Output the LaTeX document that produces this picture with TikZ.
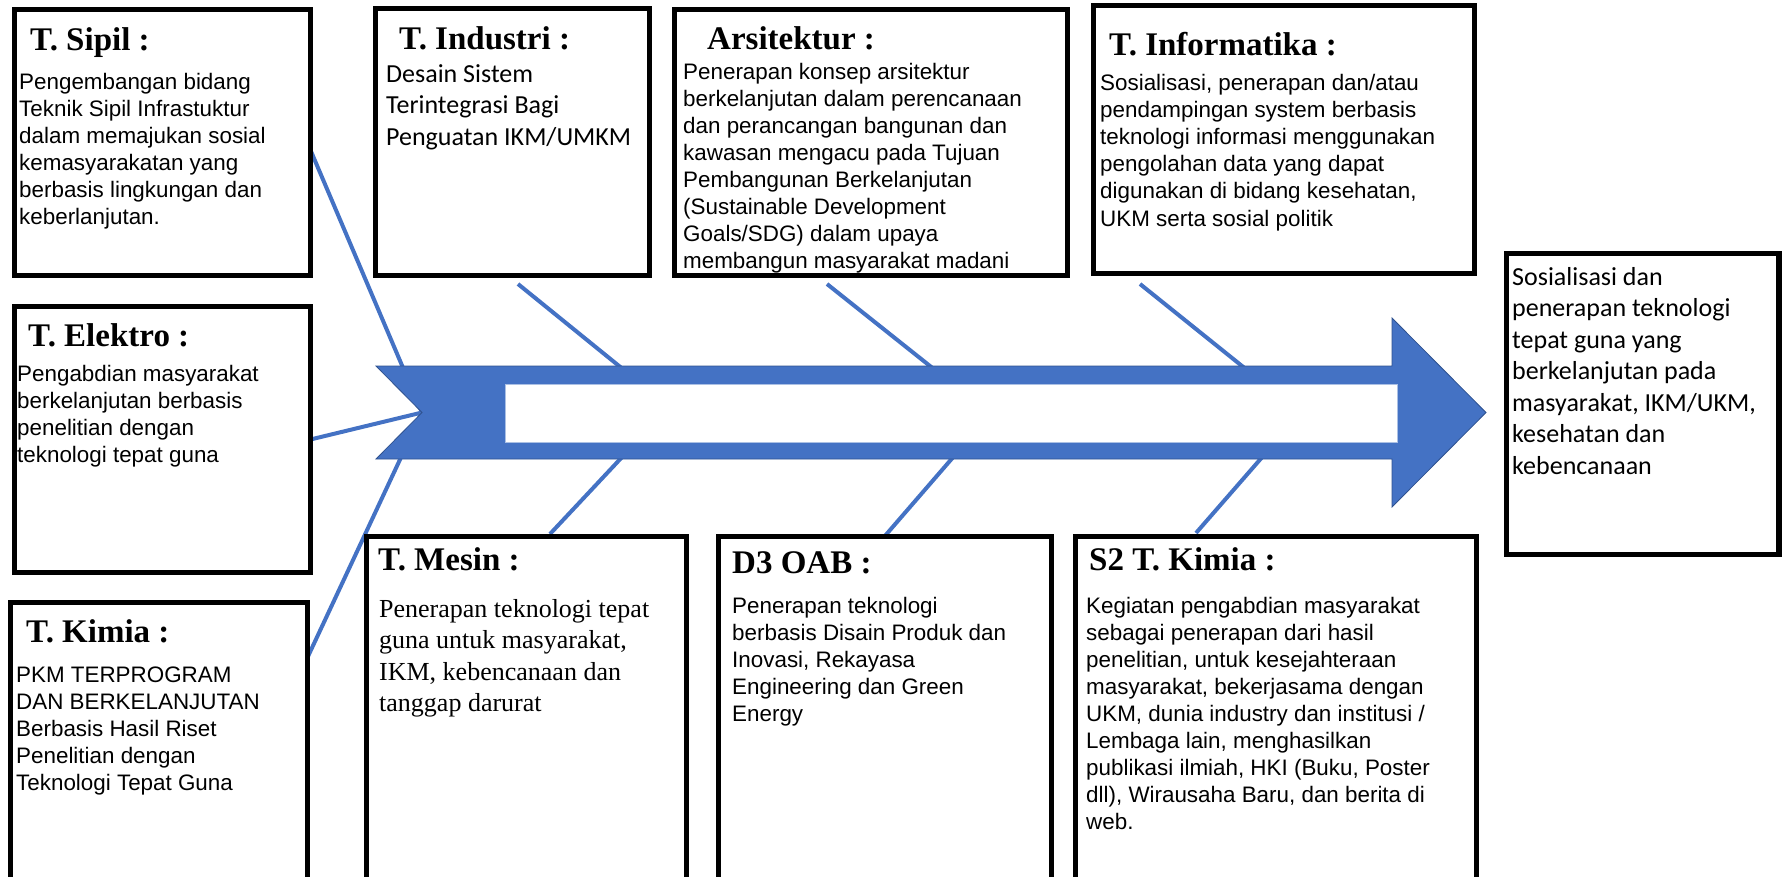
\documentclass[tikz,border=0pt]{standalone}
\usepackage{fontspec}
\newfontfamily\fArial{Liberation Sans}
\newfontfamily\fCalibri{Carlito}
\newfontfamily\fTimes{Liberation Serif}
\usetikzlibrary{fit,calc}
\definecolor{fishblue}{HTML}{4472C4}
\definecolor{fishedge}{HTML}{2F528F}

% left-aligned stack of lines whose reference point is the first baseline
\newcommand\txtlines[2]{\vtop{\baselineskip=#1\relax\lineskiplimit=-100pt\halign{##\hfil\cr#2\crcr}}}

\tikzset{
  box/.style={draw=black, line width=5.5pt, inner sep=0pt, outer sep=0pt},
  ttl/.style={anchor=base west, inner sep=0pt, font=\fTimes\bfseries\fontsize{33}{38}\selectfont},
  arialtxt/.style={anchor=base west, inner sep=0pt, font=\fArial\fontsize{22.4}{27}\selectfont},
  calibtxt/.style={anchor=base west, inner sep=0pt, font=\fCalibri\fontsize{26}{31.5}\selectfont},
  timestxt/.style={anchor=base west, inner sep=0pt, font=\fTimes\fontsize{26}{31.5}\selectfont},
  bone/.style={draw=fishblue, line width=4pt},
}

\begin{document}
\begin{tikzpicture}[x=1pt,y=-1pt]
\useasboundingbox (0,0) rectangle (1782,876);
\clip (0,0) rectangle (1782,876);

% ---------- boxes (outlines drawn last, positions fixed here) ----------
\path[inner sep=0pt]
  node[fit={(14.75,9.75)(310.25,275.25)}] (sipil) {}
  node[fit={(375.75,8.75)(649.25,275.25)}] (industri) {}
  node[fit={(674.75,9.75)(1067.25,275.25)}] (arsi) {}
  node[fit={(1093.75,5.75)(1474.25,273.25)}] (infor) {}
  node[fit={(1506.75,253.75)(1779,554.25)}] (hasil) {}
  node[fit={(14.75,306.75)(310.25,572.25)}] (elektro) {}
  node[fit={(10.75,602.75)(307.25,900)}] (kimia) {}
  node[fit={(366.75,536.75)(686.25,900)}] (mesin) {}
  node[fit={(718.75,536.75)(1051.25,900)}] (oab) {}
  node[fit={(1075.75,536.75)(1476.25,900)}] (skimia) {};

% ---------- fishbone ----------
\coordinate (notch) at (422,412.5);
\coordinate (up1a) at (518,284);  \coordinate (up1b) at (624,370);
\coordinate (up2a) at (827,284);  \coordinate (up2b) at (935,370);
\coordinate (up3a) at (1140,284); \coordinate (up3b) at (1247,370);
\coordinate (lo1a) at (624,455);  \coordinate (lo1b) at (550,534);
\coordinate (lo2a) at (955,455);  \coordinate (lo2b) at (884,537);
\coordinate (lo3a) at (1264,455); \coordinate (lo3b) at (1196,533);

\draw[bone] ([yshift=-7.5pt]sipil.east) -- (notch);
\draw[bone] (elektro.east) -- (notch);
\draw[bone] ([yshift=-55pt]kimia.north east) -- (notch);
\draw[bone] (up1a) -- (up1b);
\draw[bone] (up2a) -- (up2b);
\draw[bone] (up3a) -- (up3b);
\draw[bone] (lo1a) -- (lo1b);
\draw[bone] (lo2a) -- (lo2b);
\draw[bone] (lo3a) -- (lo3b);

% main notched arrow with its white band
\path[fill=fishblue, draw=fishedge, line width=0.8pt]
  (376,366) -- (1392,366) -- (1392,318) -- (1486,412.5) -- (1392,507)
  -- (1392,459) -- (376,459) -- (notch) -- cycle;
\node[fill=white, draw=fishblue!45, line width=0.8pt, inner sep=0pt,
      fit={(505,384)(1397,442)}] (band) {};

% ---------- titles ----------
\node[ttl] (tsipil) at (30,50) {T. Sipil :};
\node[ttl] (tindustri) at (399,49) {T. Industri :};
\node[ttl] (tarsi) at (707,49) {Arsitektur :};
\node[ttl] (tinfor) at (1109,55) {T. Informatika :};
\node[ttl] (telektro) at (28,346) {T. Elektro :};
\node[ttl] (tkimia) at (26,642) {T. Kimia :};
\node[ttl] (tmesin) at (378,570) {T. Mesin :};
\node[ttl] (toab) at (732,573) {D3 OAB :};
\node[ttl] (tskimia) at (1089,570) {S2 T. Kimia :};

% ---------- descriptions ----------
\node[arialtxt] (dsipil) at (19,89) {\txtlines{27pt}{Pengembangan bidang\cr
  Teknik Sipil Infrastuktur\cr dalam memajukan sosial\cr kemasyarakatan yang\cr
  berbasis lingkungan dan\cr keberlanjutan.}};
\node[calibtxt] (dindustri) at (386,82) {\txtlines{31.8pt}{Desain Sistem\cr
  Terintegrasi Bagi\cr Penguatan IKM/UMKM}};
\node[arialtxt] (darsi) at (683,79) {\txtlines{27pt}{Penerapan konsep arsitektur\cr
  berkelanjutan dalam perencanaan\cr dan perancangan bangunan dan\cr
  kawasan mengacu pada Tujuan\cr Pembangunan Berkelanjutan\cr
  (Sustainable Development\cr Goals/SDG) dalam upaya\cr membangun masyarakat madani}};
\node[arialtxt] (dinfor) at (1100,90) {\txtlines{27.2pt}{Sosialisasi, penerapan dan/atau\cr
  pendampingan system berbasis\cr teknologi informasi menggunakan\cr
  pengolahan data yang dapat\cr digunakan di bidang kesehatan,\cr UKM serta sosial politik}};
\node[calibtxt] (dhasil) at (1512,285) {\txtlines{31.5pt}{Sosialisasi dan\cr
  penerapan teknologi\cr tepat guna yang\cr berkelanjutan pada\cr
  masyarakat, IKM/UKM,\cr kesehatan dan\cr kebencanaan}};
\node[arialtxt] (delektro) at (17,381) {\txtlines{27pt}{Pengabdian masyarakat\cr
  berkelanjutan berbasis\cr penelitian dengan\cr teknologi tepat guna}};
\node[arialtxt] (dkimia) at (16,682) {\txtlines{27pt}{PKM TERPROGRAM\cr
  DAN BERKELANJUTAN\cr Berbasis Hasil Riset\cr Penelitian dengan\cr Teknologi Tepat Guna}};
\node[timestxt] (dmesin) at (379,617) {\txtlines{31.5pt}{Penerapan teknologi tepat\cr
  guna untuk masyarakat,\cr IKM, kebencanaan dan\cr tanggap darurat}};
\node[arialtxt] (doab) at (732,613) {\txtlines{27.2pt}{Penerapan teknologi\cr
  berbasis Disain Produk dan\cr Inovasi, Rekayasa\cr Engineering dan Green\cr Energy}};
\node[arialtxt] (dskimia) at (1086,613) {\txtlines{27pt}{Kegiatan pengabdian masyarakat\cr
  sebagai penerapan dari hasil\cr penelitian, untuk kesejahteraan\cr
  masyarakat, bekerjasama dengan\cr UKM, dunia industry dan institusi /\cr
  Lembaga lain, menghasilkan\cr publikasi ilmiah, HKI (Buku, Poster\cr
  dll), Wirausaha Baru, dan berita di\cr web.}};

% ---------- box outlines on top ----------
\foreach \b in {sipil,industri,arsi,infor,hasil,elektro,kimia,mesin,oab,skimia}
  \draw[box] (\b.north west) rectangle (\b.south east);
\end{tikzpicture}
\end{document}
